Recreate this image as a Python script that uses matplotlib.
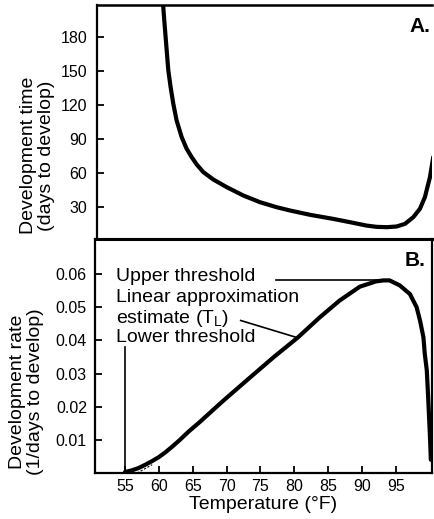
import numpy as np
import matplotlib
matplotlib.use("Agg")
import matplotlib.pyplot as plt

plt.rcParams['font.family'] = ['Liberation Sans', 'DejaVu Sans']
plt.rcParams['mathtext.fontset'] = 'custom'
plt.rcParams['mathtext.rm'] = 'Liberation Sans'
plt.rcParams['mathtext.it'] = 'Liberation Sans'

# panel A: development time (days) vs temperature (F)
temp_a = [60.3, 60.44, 60.59, 60.79, 61.19, 61.53, 61.93, 62.42, 63.17, 63.91,
          64.65, 65.40, 66.39, 67.87, 69.85, 72.33, 74.81, 77.28, 79.26, 82.24,
          85.70, 88.18, 90.66, 92.14, 93.63, 95.11, 96.35, 97.59, 98.58, 99.32,
          100.07, 100.56]
days_a = [215, 206.5, 194.8, 180, 150.6, 135.9, 121.2, 106.5, 91.8, 81.5,
          74.2, 67.7, 60.9, 54.4, 47.7, 40.3, 34.4, 30.0, 27.1, 23.3,
          19.7, 16.8, 13.8, 12.7, 12.4, 13.0, 15.3, 21.2, 28.6, 38.9,
          56.5, 74.2]

# panel B: development rate (1/days) vs temperature (F)
temp_b = [55.0, 56.0, 57.0, 58.0, 59.0, 60.0, 61.0, 62.0, 63.0, 64.4,
          66.0, 69.35, 73.3, 77.0, 80.5, 83.7, 86.7, 89.7, 92.1, 93.2,
          94.1, 95.6, 97.1, 98.1, 98.6, 99.1, 99.3, 99.6, 99.8, 100.07, 100.2]
rate_b = [0.0003, 0.0008, 0.0015, 0.0025, 0.0036, 0.0048, 0.0063, 0.0080, 0.0098, 0.0125,
          0.0153, 0.0215, 0.0285, 0.0350, 0.0408, 0.0468, 0.0520, 0.0562, 0.0578, 0.0581,
          0.0581, 0.0566, 0.0540, 0.0500, 0.0460, 0.0410, 0.0360, 0.0310, 0.0230, 0.0110, 0.0040]

a_ticks = [30, 60, 90, 120, 150, 180]
b_ticks = [0.01, 0.02, 0.03, 0.04, 0.05, 0.06]
x_ticks = [55, 60, 65, 70, 75, 80, 85, 90, 95]

lower_threshold = 55
upper_rate = 0.0582

fig = plt.figure(figsize=(4.35, 5.19), dpi=100)
ax1 = fig.add_axes([0.223, 0.5395, 0.769, 0.451])
ax2 = fig.add_axes([0.219, 0.0886, 0.773, 0.451])

lw = 3.0
ax1.plot(temp_a, days_a, color='black', lw=lw, solid_joinstyle='round', solid_capstyle='round')
ax1.set_xlim(50.6, 100.3)
ax1.set_ylim(2, 208)
ax1.set_yticks(a_ticks)
ax1.set_xticks([])
ax1.spines['right'].set_visible(False)
ax1.spines['left'].set_linewidth(1.6)
ax1.spines['top'].set_linewidth(1.8)
ax1.spines['bottom'].set_linewidth(2.2)
ax1.tick_params(axis='y', direction='in', length=5, width=1.3, pad=7, labelsize=11.5)
ax1.text(0.998, 0.906, 'A.', transform=ax1.transAxes, ha='right', va='center',
         fontsize=15, fontweight='bold')

ax2.plot(temp_b, rate_b, color='black', lw=lw, solid_joinstyle='round', solid_capstyle='round')
ax2.set_xlim(50.6, 100.3)
ax2.set_ylim(0, 0.0706)
ax2.set_yticks(b_ticks)
ax2.set_yticklabels(['%.2f' % t for t in b_ticks])
ax2.set_xticks(x_ticks)
for s in ax2.spines.values():
    s.set_linewidth(1.6)
ax2.spines['top'].set_linewidth(2.2)
ax2.tick_params(axis='both', direction='in', length=5, width=1.3, labelsize=11.5)
ax2.tick_params(axis='y', pad=6)
ax2.tick_params(axis='x', pad=4)
ax2.text(0.982, 0.91, 'B.', transform=ax2.transAxes, ha='right', va='center',
         fontsize=15, fontweight='bold')

# labels and leader lines
ax2.text(53.7, 0.0594, 'Upper threshold', fontsize=14, va='center')
ax2.text(53.7, 0.0530, 'Linear approximation', fontsize=14, va='center')
ax2.text(53.7, 0.0466, r'estimate (T$_{\rm L}$)', fontsize=14, va='center')
ax2.text(53.7, 0.0410, 'Lower threshold', fontsize=14, va='center')
ax2.plot([77.3, 92.5], [upper_rate, upper_rate], color='black', lw=1.2)
ax2.plot([72.1, 80.5], [0.0460, 0.0408], color='black', lw=1.2)
ax2.plot([lower_threshold, lower_threshold], [0, 0.0379], color='black', lw=1.2)
ax2.plot([56.8, 59.0], [0.0, 0.0025], color='black', lw=0.8, ls=(0, (2, 1.5)))

fig.text(0.086, 0.70, 'Development time\n(days to develop)', rotation=90,
         ha='center', va='center', fontsize=14, linespacing=1.05)
fig.text(0.061, 0.245, 'Development rate\n(1/days to develop)', rotation=90,
         ha='center', va='center', fontsize=14, linespacing=1.05)
fig.text(0.605, 0.027, 'Temperature (°F)', ha='center', va='center', fontsize=14)

fig.savefig('out.png', dpi=100)
